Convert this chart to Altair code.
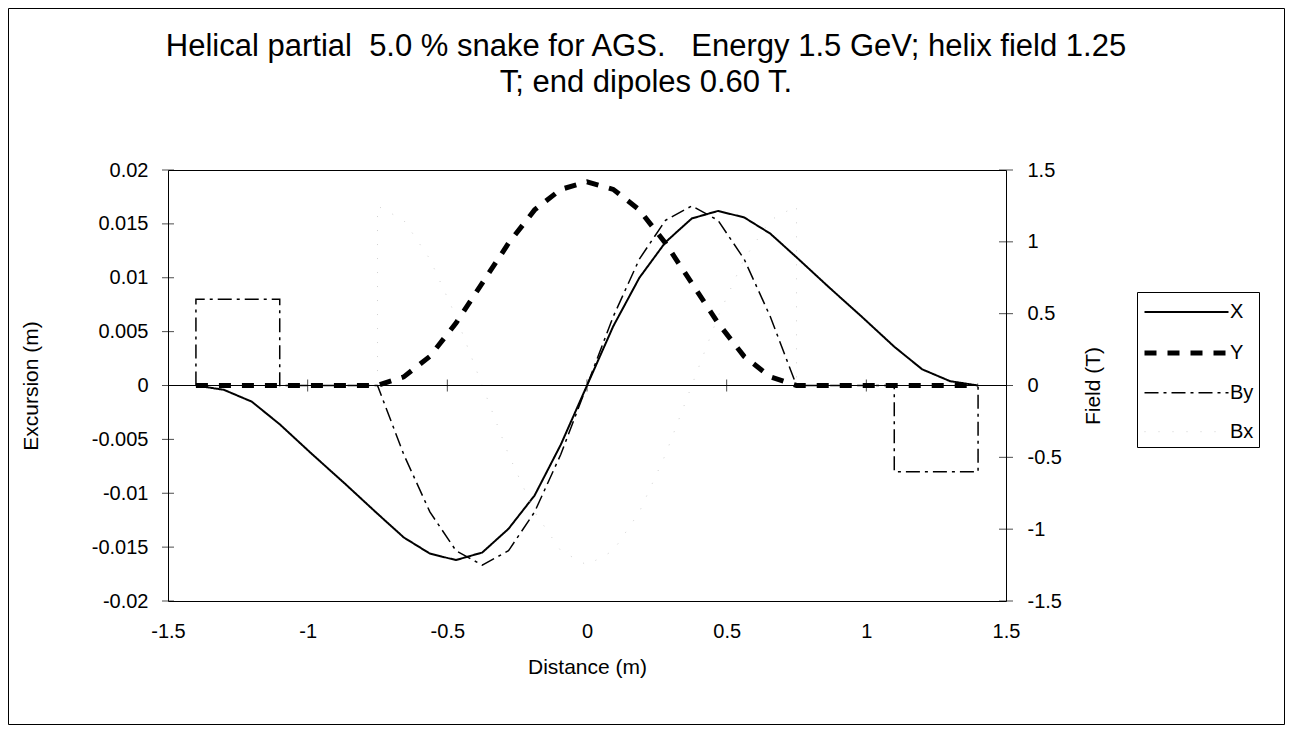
import altair as alt
import pandas as pd

FONT = "Liberation Sans"

# ---- data ----
dist = [-1.4, -1.3, -1.2, -1.1, -0.983, -0.867,
        -0.75, -0.656, -0.5625, -0.469, -0.375, -0.281, -0.1875, -0.094, 0.0,
        0.094, 0.1875, 0.281, 0.375, 0.469, 0.5625, 0.656, 0.75,
        0.867, 0.983, 1.1, 1.2, 1.3, 1.4]
x_exc = [0.0, -0.0004, -0.0015, -0.0036, -0.0064, -0.0091,
         -0.0119, -0.0141, -0.0156, -0.0162, -0.0155, -0.0133, -0.0102, -0.0055, 0.0,
         0.0055, 0.0100, 0.0133, 0.0155, 0.0162, 0.0156, 0.0141, 0.0119,
         0.0091, 0.0064, 0.0036, 0.0015, 0.0004, 0.0]
y_exc = [0.0, 0.0, 0.0, 0.0, 0.0, 0.0,
         0.0, 0.0008, 0.0027, 0.0058, 0.0095, 0.0132, 0.0163, 0.0182, 0.0189,
         0.0182, 0.0163, 0.0132, 0.0095, 0.0058, 0.0027, 0.0008, 0.0,
         0.0, 0.0, 0.0, 0.0, 0.0, 0.0]

by_dist = [-1.4, -1.4, -1.1, -1.1, -0.983, -0.867,
           -0.75, -0.656, -0.5625, -0.469, -0.375, -0.281, -0.1875, -0.094, 0.0,
           0.094, 0.1875, 0.281, 0.375, 0.469, 0.5625, 0.656, 0.75,
           0.867, 0.983, 1.1, 1.1, 1.4, 1.4]
by_field = [0.0, 0.6, 0.6, 0.0, 0.0, 0.0,
            0.0, -0.48, -0.88, -1.15, -1.25, -1.15, -0.88, -0.48, 0.0,
            0.48, 0.88, 1.15, 1.25, 1.15, 0.88, 0.48, 0.0,
            0.0, 0.0, 0.0, -0.6, -0.6, 0.0]

bx_dist = [-1.4, -1.3, -1.2, -1.1, -0.983, -0.867, -0.75,
           -0.75, -0.656, -0.5625, -0.469, -0.375, -0.281, -0.1875, -0.094, 0.0,
           0.094, 0.1875, 0.281, 0.375, 0.469, 0.5625, 0.656, 0.75,
           0.75, 0.867, 0.983, 1.1, 1.2, 1.3, 1.4]
bx_field = [0.0, 0.0, 0.0, 0.0, 0.0, 0.0, 0.0,
            1.25, 1.15, 0.88, 0.48, 0.0, -0.48, -0.88, -1.15, -1.25,
            -1.15, -0.88, -0.48, 0.0, 0.48, 0.88, 1.15, 1.25,
            0.0, 0.0, 0.0, 0.0, 0.0, 0.0, 0.0]

series_names = ["X", "Y", "By", "Bx"]
x_ticks = [-1.5, -1, -0.5, 0, 0.5, 1, 1.5]
zero_ticks = [-1, -0.5, 0, 0.5, 1]
left_ticks = [-0.02, -0.015, -0.01, -0.005, 0, 0.005, 0.01, 0.015, 0.02]
right_ticks = [-1.5, -1, -0.5, 0, 0.5, 1, 1.5]

title_lines = ["Helical partial\u00a0 5.0 % snake for AGS.\u00a0\u00a0 Energy 1.5 GeV; helix field 1.25",
               "T; end dipoles 0.60 T."]

# ---- tables ----
rows = []
for i, (d, v) in enumerate(zip(dist, y_exc)):
    rows.append({"s": "Y", "i": i, "d": d, "v": v})
for i, (d, v) in enumerate(zip(dist, x_exc)):
    rows.append({"s": "X", "i": i, "d": d, "v": v})
df_exc = pd.DataFrame(rows)
rows = []
for i, (d, v) in enumerate(zip(by_dist, by_field)):
    rows.append({"s": "By", "i": i, "d": d, "v": v})
for i, (d, v) in enumerate(zip(bx_dist, bx_field)):
    rows.append({"s": "Bx", "i": i, "d": d, "v": v})
df_field = pd.DataFrame(rows)

W, H = 838, 431

xscale = alt.Scale(domain=[-1.5, 1.5], nice=False, zero=False)
yexc = alt.Scale(domain=[-0.02, 0.02], nice=False, zero=False)
yfld = alt.Scale(domain=[-1.5, 1.5], nice=False, zero=False)

legend = alt.Legend(title=None, orient="none", legendX=969, legendY=122,
                    symbolType="M-3,0H3", symbolSize=784, symbolOffset=28,
                    labelFontSize=20, labelFont=FONT, labelColor="black",
                    strokeColor="black", fillColor="white", padding=5,
                    rowPadding=14.4, labelOffset=27)

color_enc = alt.Color("s:N", scale=alt.Scale(domain=series_names,
                      range=["black", "black", "black", "#d0d0d0"]), legend=legend)
dash_enc = alt.StrokeDash("s:N", scale=alt.Scale(domain=series_names,
                          range=[[1, 0], [12, 11], [14, 5, 3, 5], [1, 13]]), legend=legend)
width_enc = alt.StrokeWidth("s:N", scale=alt.Scale(type="ordinal", domain=series_names,
                            range=[2, 5, 1.5, 1]), legend=legend)

LBL = "'' + datum.value"
x_axis = alt.Axis(values=x_ticks, labelExpr=LBL, ticks=False, domain=False, labelFlush=False,
                  grid=False, title="Distance (m)", labelPadding=20, labelFontSize=20,
                  labelFont=FONT, labelColor="black", titleFont=FONT, titleFontSize=21,
                  titleFontWeight="normal", titleColor="black", titleX=W / 2, titleY=66,
                  titleBaseline="middle", titleAlign="center")
left_axis = alt.Axis(values=left_ticks, labelExpr=LBL, ticks=False, domain=False,
                     grid=False, title="Excursion (m)", labelPadding=20, labelFontSize=20,
                     labelFont=FONT, labelColor="black", titleFont=FONT, titleFontSize=21,
                     titleFontWeight="normal", titleColor="black", titleX=-137, titleY=H / 2,
                     titleAngle=270, titleBaseline="middle", titleAlign="center")
right_axis = alt.Axis(values=right_ticks, labelExpr=LBL, ticks=False,
                      domain=False, grid=False, title="Field (T)", orient="right",
                      labelPadding=21, labelFontSize=20, labelFont=FONT, labelColor="black",
                      titleFont=FONT, titleFontSize=21, titleFontWeight="normal",
                      titleColor="black", titleX=87, titleY=H / 2, titleAngle=270,
                      titleBaseline="middle", titleAlign="center")

frame = alt.Chart(pd.DataFrame({"a": [0]})).mark_rect(
    fill=None, stroke="black", strokeWidth=1).encode(
    x=alt.value(-159.5), x2=alt.value(1116.5), y=alt.value(-161.5), y2=alt.value(554.5))

exc_lines = alt.Chart(df_exc).mark_line(strokeCap="butt").encode(
    x=alt.X("d:Q", scale=xscale, axis=x_axis),
    y=alt.Y("v:Q", scale=yexc, axis=left_axis),
    color=color_enc, strokeDash=dash_enc, strokeWidth=width_enc,
    order=alt.Order("i:Q"),
)

fld_lines = alt.Chart(df_field).mark_line(strokeCap="butt").encode(
    x=alt.X("d:Q", scale=xscale, axis=x_axis),
    y=alt.Y("v:Q", scale=yfld, axis=right_axis),
    color=color_enc, strokeDash=dash_enc, strokeWidth=width_enc,
    order=alt.Order("i:Q"),
)

zero_rule = alt.Chart(pd.DataFrame({"v": [0]})).mark_rule(color="black", strokeWidth=1).encode(
    y=alt.Y("v:Q", scale=yexc, axis=None))

zt = alt.Chart(pd.DataFrame({"d": zero_ticks, "v": [0] * len(zero_ticks)})).mark_tick(
    orient="vertical", size=12, thickness=1, color="black").encode(
    x=alt.X("d:Q", scale=xscale, axis=x_axis), y=alt.Y("v:Q", scale=yexc, axis=None))

lt = alt.Chart(pd.DataFrame({"d": [-1.5] * len(left_ticks), "v": left_ticks})).mark_tick(
    orient="horizontal", size=12, thickness=1, color="black").encode(
    x=alt.X("d:Q", scale=xscale, axis=x_axis), y=alt.Y("v:Q", scale=yexc, axis=None))

rt = alt.Chart(pd.DataFrame({"d": [1.5] * len(right_ticks), "v": right_ticks})).mark_tick(
    orient="horizontal", size=14, thickness=1, color="black").encode(
    x=alt.X("d:Q", scale=xscale, axis=x_axis), y=alt.Y("v:Q", scale=yfld, axis=None))

chart = alt.layer(exc_lines, fld_lines, zero_rule, zt, lt, rt, frame).resolve_scale(
    y="independent").properties(
    width=W, height=H,
    title=alt.TitleParams(text=title_lines, fontSize=31, font=FONT, fontWeight="normal",
                          color="black", anchor="middle", dx=59, offset=-91, lineHeight=36),
    autosize=alt.AutoSizeParams(type="none"),
    padding={"left": 160, "top": 162, "right": 279, "bottom": 124},
).configure(background="white").configure_view(stroke="black", strokeWidth=1)

chart.save("out.html", embed_options={"renderer": "svg", "actions": False})
